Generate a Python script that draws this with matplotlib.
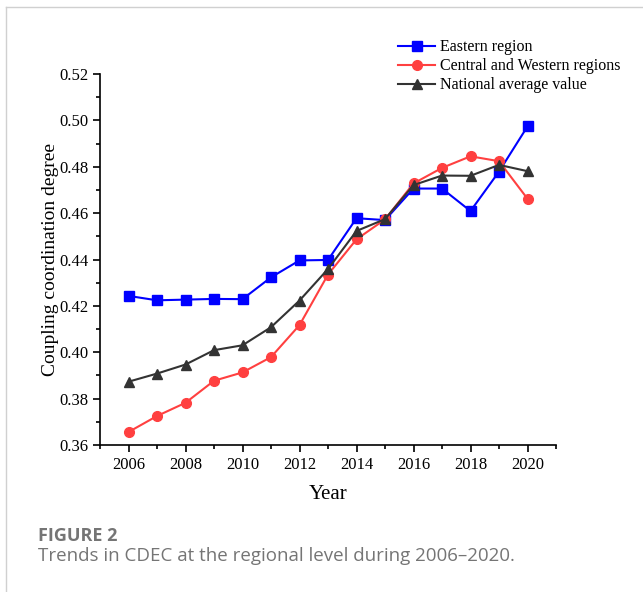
import matplotlib.pyplot as plt
from matplotlib.ticker import MultipleLocator
from matplotlib.lines import Line2D

years = list(range(2006, 2021))
eastern = [0.4243, 0.4224, 0.4227, 0.4230, 0.4229, 0.4323, 0.4396, 0.4398,
           0.4578, 0.4570, 0.4706, 0.4706, 0.4609, 0.4779, 0.4974]
central_western = [0.3656, 0.3725, 0.3782, 0.3877, 0.3913, 0.3979, 0.4117, 0.4335,
                   0.4487, 0.4573, 0.4728, 0.4795, 0.4845, 0.4824, 0.4662]
national = [0.3873, 0.3908, 0.3947, 0.4009, 0.4030, 0.4108, 0.4223, 0.4359,
            0.4523, 0.4574, 0.4721, 0.4762, 0.4761, 0.4808, 0.4781]
labels = ["Eastern region", "Central and Western regions", "National average value"]

plt.rcParams["font.family"] = ["Liberation Serif", "DejaVu Serif"]

W, H = 643, 592
fig = plt.figure(figsize=(W / 100, H / 100), dpi=100)
ax = fig.add_axes([100 / W, 1 - 445 / H, 456 / W, 371 / H])

series = [
    (eastern, "#0000ff", "s", 7),
    (central_western, "#ff4040", "o", 7),
    (national, "#333333", "^", 7.5),
]
handles = []
for (vals, color, mk, ms), lab in zip(series, labels):
    h, = ax.plot(years, vals, color=color, marker=mk, markersize=ms, lw=1.5, label=lab)
    handles.append(h)

ax.set_xlim(2005, 2021)
ax.set_ylim(0.36, 0.52)
ax.xaxis.set_major_locator(MultipleLocator(2))
ax.xaxis.set_minor_locator(MultipleLocator(1))
ax.yaxis.set_major_locator(MultipleLocator(0.02))
ax.yaxis.set_minor_locator(MultipleLocator(0.01))
ax.set_xticks(range(2006, 2021, 2))
ax.set_yticklabels([f"{v:.2f}" for v in ax.get_yticks()])
for side in ("top", "right"):
    ax.spines[side].set_visible(False)
for side in ("left", "bottom"):
    ax.spines[side].set_linewidth(1.2)
ax.tick_params(which="major", direction="out", length=5, width=1.2, labelsize=12)
ax.tick_params(which="minor", direction="out", length=3, width=1.2)
ax.set_xlabel("Year", fontsize=15, labelpad=9)
ax.set_ylabel("Coupling coordination degree", fontsize=14, labelpad=0)

fig.legend(handles=handles, loc="upper left", bbox_to_anchor=(392 / W, 1 - 33 / H),
           frameon=False, fontsize=11.5, handlelength=2.3, handletextpad=0.3,
           labelspacing=0.18, borderaxespad=0)

# light page frame
fig.add_artist(Line2D([6 / W, 6 / W], [0, 1 - 7 / H], color="#d0d0d0", lw=1))
fig.add_artist(Line2D([6 / W, 1], [1 - 7 / H, 1 - 7 / H], color="#d0d0d0", lw=1))

fig.text(38 / W, 1 - 536 / H, "FIGURE 2", family="Open Sans", fontsize=13,
         fontweight="bold", color="#757575", va="center")
fig.text(38 / W, 1 - 556 / H, "Trends in CDEC at the regional level during 2006\u20132020.",
         family="Open Sans", fontsize=13.5, color="#757575", va="center")

fig.savefig("out.png", dpi=100)
